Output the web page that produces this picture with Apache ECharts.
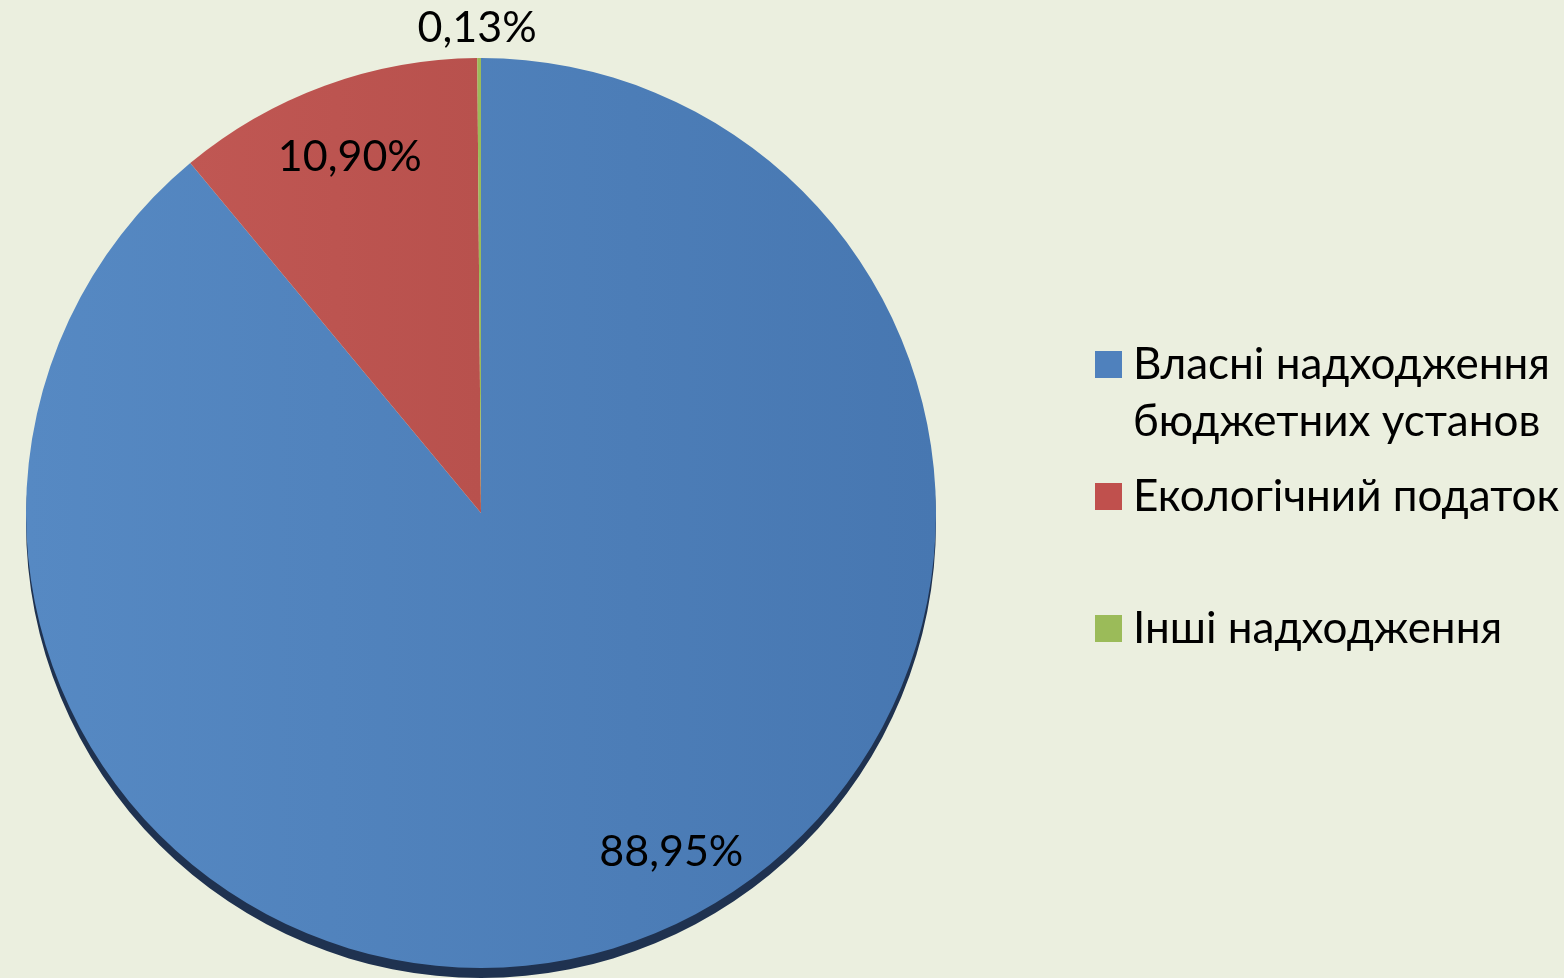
<!DOCTYPE html>
<html><head><meta charset="utf-8">
<script src="https://cdn.jsdelivr.net/npm/echarts@6/dist/echarts.min.js"></script>
<style>html,body{margin:0;padding:0;background:#EBEFDF}#c{width:1564px;height:978px}</style>
</head><body><div id="c"></div>
<script>
const categories = ['Власні надходження\nбюджетних установ', 'Екологічний податок', 'Інші надходження'];
const shares = [88.95, 10.90, 0.13];
const colors = ['#4F81BD', '#C0504D', '#9BBB59'];

const FONT = 'Lato';
const chart = echarts.init(document.getElementById('c'));

const gradients = [
  {type:'linear', x:0, y:0, x2:1, y2:0, colorStops:[{offset:0,color:'#5689C3'},{offset:1,color:'#4777B1'}]},
  {type:'linear', x:0, y:0, x2:1, y2:0, colorStops:[{offset:0,color:'#C05753'},{offset:1,color:'#B8514D'}]},
  '#9BBB59'
];

const labelOffsets = [[112,122],[-52,-139],[-2,-30]];

const legendCommon = {
  orient:'vertical', icon:'rect', itemWidth:27, itemHeight:27, padding:0,
  selectedMode:false, left:1095
};

chart.setOption({
  backgroundColor:'#EBEFDF',
  animation:false,
  legend: categories.map((c,i)=>Object.assign({}, legendCommon, {
    top: [279, 468, 600][i],
    data:[{name:c, itemStyle:{color:colors[i]}}],
    // first entry: keep its first line level with the icon
    formatter: name => (i===0 ? '\n' + name : name),
    itemGap: 0,
    textStyle:{fontFamily:FONT, fontSize:44, color:'#000', lineHeight:57, padding:[0,0,0,6]}
  })),
  series:[{
    type:'pie',
    center:[481,513],
    radius:455,
    startAngle:90,
    clockwise:true,
    avoidLabelOverlap:false,
    label:{
      show:true, position:'inside', fontFamily:FONT, fontSize:43, color:'#000',
      formatter: p => p.value.toFixed(2).replace('.', ',') + '%'
    },
    labelLine:{show:false},
    labelLayout: p => {
      const o = labelOffsets[p.dataIndex];
      const r = {dx:o[0], dy:o[1]};
      if (p.dataIndex === 2) { r.align = 'center'; }
      return r;
    },
    data: categories.map((c,i)=>{
      const d = {name:c, value:shares[i], itemStyle:{color:gradients[i], borderWidth:0}};
      if (i===0) { d.itemStyle.shadowColor = '#1F3250'; d.itemStyle.shadowOffsetY = 10; d.itemStyle.shadowBlur = 0; }
      if (i===2) { d.label = {position:'outside', distanceToLabelLine:0}; d.labelLine = {show:false, length:0, length2:0}; }
      return d;
    }),
    emphasis:{disabled:true}
  }]
});
</script></body></html>
